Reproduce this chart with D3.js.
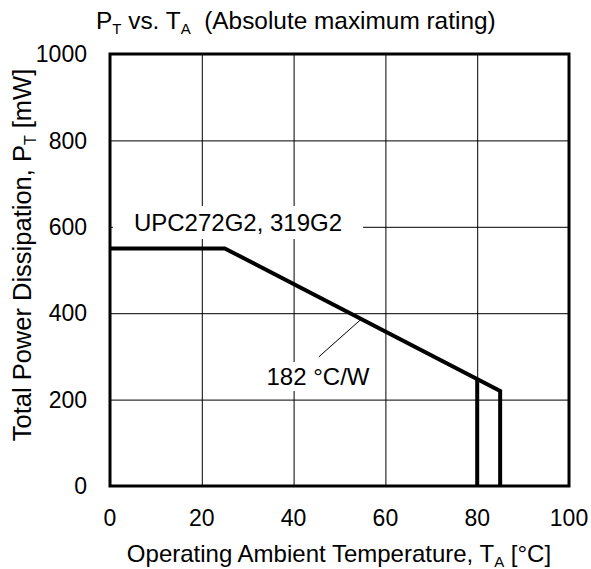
<!DOCTYPE html>
<html>
<head>
<meta charset="utf-8">
<script src="https://cdn.jsdelivr.net/npm/d3@7"></script>
<style>
  body { margin: 0; background: #fff; }
  svg text { font-family: Arial, "Liberation Sans", sans-serif; fill: #000; }
  .grid line { stroke: #000; stroke-width: 1; }
  .grid path { display: none; }
</style>
</head>
<body>
<div id="chart"></div>
<script>
// data
const tempTicks = [0, 20, 40, 60, 80, 100],
      powerTicks = [0, 200, 400, 600, 800, 1000]

// derating curve: flat 550 mW to 25 °C, then 182 °C/W down to 85 °C
const curveT = [0, 25, 85, 85],
      curveP = [550, 550, 220, 0]

// second cut off at 80 °C
const cutT = [80, 80],
      cutP = [247, 0]

// leader line for the thermal resistance note
const leaderT = [54.6, 45.5],
      leaderP = [385, 299]

const w = 591, h = 569
const margin = {top: 54, right: 22, bottom: 83, left: 110},
      width = w - margin.left - margin.right,
      height = h - margin.top - margin.bottom

const fs = "24px", subFs = "15px"

const svg = d3.select("#chart").append("svg")
  .attr("width", w)
  .attr("height", h)

const xScale = d3.scaleLinear().domain([0, 100]).range([margin.left, margin.left + width]),
      yScale = d3.scaleLinear().domain([0, 1000]).range([margin.top + height, margin.top])

// grid lines
svg.append("g")
  .attr("class", "grid")
  .attr("transform", `translate(0, ${margin.top + height})`)
  .call(d3.axisBottom(xScale).tickValues(tempTicks).tickSize(-height).tickFormat(""))

svg.append("g")
  .attr("class", "grid")
  .attr("transform", `translate(${margin.left}, 0)`)
  .call(d3.axisLeft(yScale).tickValues(powerTicks).tickSize(-width).tickFormat(""))

// tick labels
svg.append("g").selectAll("text")
  .data(tempTicks)
  .join("text")
  .attr("x", d => xScale(d))
  .attr("y", 526)
  .attr("text-anchor", "middle")
  .style("font-size", "23px")
  .text(d => d)

svg.append("g").selectAll("text")
  .data(powerTicks)
  .join("text")
  .attr("x", 87)
  .attr("y", d => yScale(d))
  .attr("dy", "0.36em")
  .attr("text-anchor", "end")
  .style("font-size", "23px")
  .text(d => d)

// labels with white boxes that hide the grid behind them
const boxedLabel = (x, y, str, padX, padY) => {
  const t = svg.append("text")
    .attr("x", x)
    .attr("y", y)
    .attr("text-anchor", "middle")
    .style("font-size", fs)
    .text(str)
  const bb = t.node().getBBox()
  svg.insert("rect", () => t.node())
    .attr("x", bb.x - padX)
    .attr("y", bb.y - padY)
    .attr("width", bb.width + padX * 2)
    .attr("height", bb.height + padY * 2)
    .attr("fill", "#fff")
}
boxedLabel(238, 231, "UPC272G2, 319G2", 21, 3)
boxedLabel(318, 385, "182 \u00B0C/W", 6, 1)

// leader line
const line = d3.line()
svg.append("path")
  .attr("d", line(leaderT.map((t, i) => [xScale(t), yScale(leaderP[i])])))
  .attr("fill", "none")
  .attr("stroke", "#000")
  .attr("stroke-width", 1)

// curves
svg.append("path")
  .attr("d", line(curveT.map((t, i) => [xScale(t), yScale(curveP[i])])))
  .attr("fill", "none")
  .attr("stroke", "#000")
  .attr("stroke-width", 4)
  .attr("stroke-linejoin", "miter")

svg.append("path")
  .attr("d", line(cutT.map((t, i) => [xScale(t), yScale(cutP[i])])))
  .attr("fill", "none")
  .attr("stroke", "#000")
  .attr("stroke-width", 4)

// frame
svg.append("rect")
  .attr("x", margin.left)
  .attr("y", margin.top)
  .attr("width", width)
  .attr("height", height)
  .attr("fill", "none")
  .attr("stroke", "#000")
  .attr("stroke-width", 3)

// title
const title = svg.append("text")
  .attr("x", 96)
  .attr("y", 29)
  .style("font-size", "24.4px")
title.append("tspan").text("P")
title.append("tspan").attr("dy", 5).style("font-size", subFs).text("T")
title.append("tspan").attr("dy", -5).text(" vs. T")
title.append("tspan").attr("dy", 5).style("font-size", subFs).text("A")
title.append("tspan").attr("dy", -5).text("\u00A0 (Absolute maximum rating)")

// x axis title
const xt = svg.append("text")
  .attr("x", 339)
  .attr("y", 562)
  .attr("text-anchor", "middle")
  .style("font-size", fs)
xt.append("tspan").text("Operating Ambient Temperature, T")
xt.append("tspan").attr("dy", 5).style("font-size", subFs).text("A")
xt.append("tspan").attr("dy", -5).text(" [\u00B0C]")

// y axis title
const yt = svg.append("text")
  .attr("transform", "translate(31, 255) rotate(-90)")
  .attr("text-anchor", "middle")
  .style("font-size", "25.5px")
yt.append("tspan").text("Total Power Dissipation, P")
yt.append("tspan").attr("dy", 5).style("font-size", "16px").text("T")
yt.append("tspan").attr("dy", -5).text(" [mW]")
</script>
</body>
</html>
